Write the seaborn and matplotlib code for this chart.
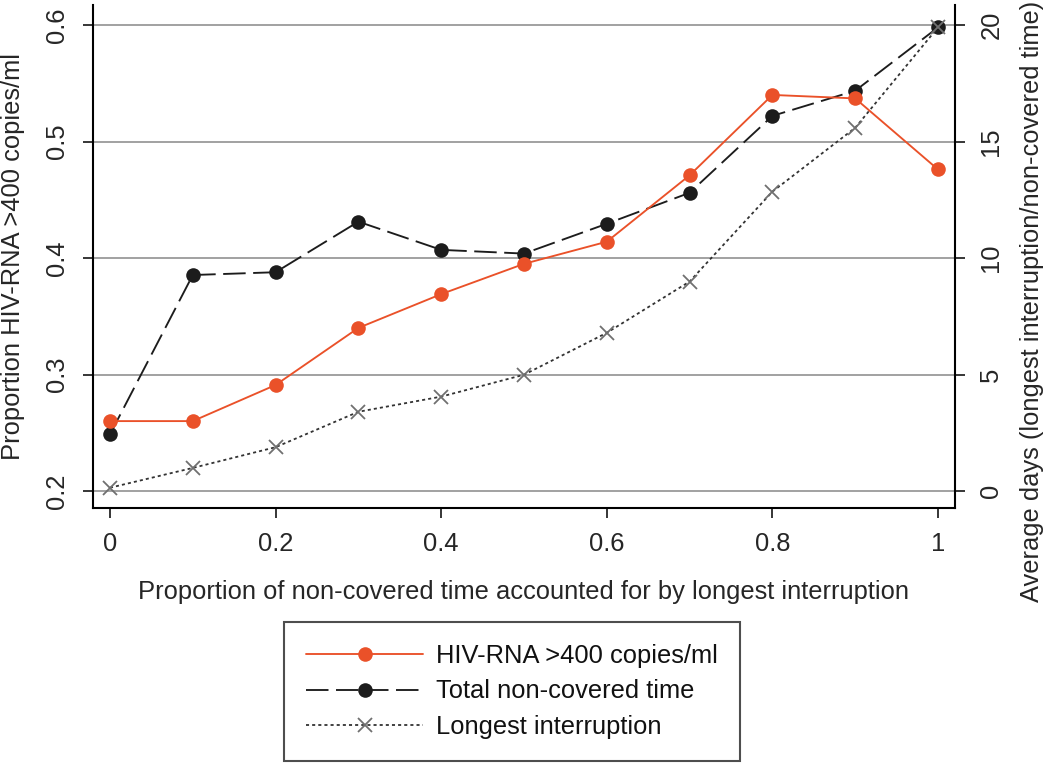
import pandas as pd
import matplotlib
matplotlib.use('Agg')
import matplotlib.pyplot as plt
import seaborn as sns

# values
interruption_share = [0.0, 0.1, 0.2, 0.3, 0.4, 0.5, 0.6, 0.7, 0.8, 0.9, 1.0]
hiv_rna_prop = [0.260, 0.260, 0.291, 0.340, 0.369, 0.395, 0.414, 0.471, 0.540, 0.537, 0.476]
total_noncovered_days = [2.43, 9.27, 9.39, 11.56, 10.35, 10.19, 11.47, 12.80, 16.10, 17.18, 19.90]
longest_interruption_days = [0.14, 0.99, 1.88, 3.40, 4.05, 4.99, 6.79, 8.99, 12.85, 15.59, 19.90]

left_ticks = [0.2, 0.3, 0.4, 0.5, 0.6]
right_ticks = [0, 5, 10, 15, 20]
x_ticks = [0, 0.2, 0.4, 0.6, 0.8, 1]
x_ticklabels = ['0', '0.2', '0.4', '0.6', '0.8', '1']
left_ticklabels = ['0.2', '0.3', '0.4', '0.5', '0.6']

df = pd.DataFrame({
    'share': interruption_share,
    'hiv': hiv_rna_prop,
    'total': total_noncovered_days,
    'longest': longest_interruption_days,
})

sns.set_style('white')
plt.rcParams['font.family'] = ['Liberation Sans', 'DejaVu Sans']
plt.rcParams['font.size'] = 18.4
plt.rcParams['text.color'] = '#111111'

RED = '#EA5129'
BLACK = '#1c1c1c'
GRID = '#9a9a9a'

fig = plt.figure(figsize=(10.5, 7.64), dpi=100)
ax = fig.add_axes([93 / 1050, 256 / 764, 862 / 1050, 503 / 764])
ax2 = ax.twinx()

# right axis below, left axis (red series) drawn on top
ax.set_zorder(ax2.get_zorder() + 1)
ax.patch.set_visible(False)
ax2.patch.set_facecolor('white')

sns.lineplot(data=df, x='share', y='total', ax=ax2, color=BLACK, linewidth=1.35,
             marker='o', markersize=10.5, markeredgewidth=0,
             label='Total non-covered time', legend=False)
sns.lineplot(data=df, x='share', y='longest', ax=ax2, color='#333333', linewidth=1.3,
             marker='x', markersize=10, markeredgewidth=1.3, markeredgecolor='#707070',
             label='Longest interruption', legend=False)
ax2.lines[0].set_dashes([12, 4])
ax2.lines[1].set_dashes([1.7, 1.7])

sns.lineplot(data=df, x='share', y='hiv', ax=ax, color=RED, linewidth=1.35,
             marker='o', markersize=10.5, markeredgewidth=0,
             label='HIV-RNA >400 copies/ml', legend=False)

ax.set_xlim(-0.0205, 1.0205)
ax.set_ylim(0.1854, 0.6172)
ax2.set_ylim(-0.73, 20.86)

# horizontal grid drawn on right axis (same positions as left ticks)
for t in right_ticks:
    ax2.axhline(t, color=GRID, linewidth=1.3, zorder=0)

ax.set_xticks(x_ticks)
ax.set_xticklabels(x_ticklabels)
ax.set_yticks(left_ticks)
ax.set_yticklabels(left_ticklabels)
ax2.set_yticks(right_ticks)
ax2.set_yticklabels([str(t) for t in right_ticks])

for a in (ax, ax2):
    for s in a.spines.values():
        s.set_linewidth(1.5)
        s.set_color('black')
    a.spines['top'].set_visible(False)
    a.tick_params(length=7.5, width=1.1, color='black', labelsize=18.4)
ax.spines['right'].set_visible(False)
ax2.spines['left'].set_visible(False)
ax2.spines['bottom'].set_visible(False)

ax.tick_params(axis='x', pad=10, bottom=True)
ax.tick_params(axis='y', pad=10, left=True)
ax2.tick_params(axis='y', pad=10, right=True)
plt.setp(ax.get_yticklabels(), rotation=90, va='center')
plt.setp(ax2.get_yticklabels(), rotation=90, va='center')

ax.set_xlabel('Proportion of non-covered time accounted for by longest interruption')
ax.set_ylabel('Proportion HIV-RNA >400 copies/ml')
ax2.set_ylabel('Average days (longest interruption/non-covered time)')
ax.xaxis.set_label_coords(0.5, -0.143)
ax.yaxis.set_label_coords(-0.079, 0.5)
ax2.yaxis.set_label_coords(1.075, 0.41)

h1, l1 = ax.get_legend_handles_labels()
h2, l2 = ax2.get_legend_handles_labels()
leg = fig.legend(h1 + h2, l1 + l2, loc='center', bbox_to_anchor=(512 / 1050, (764 - 691.5) / 764),
                 frameon=True, fancybox=False, shadow=False, fontsize=18.4,
                 handlelength=4.6, handletextpad=0.5, labelspacing=0.45,
                 borderpad=0.85, numpoints=1)
leg.get_frame().set_edgecolor('#222222')
leg.get_frame().set_linewidth(1.5)

fig.savefig('out.png', dpi=100, facecolor='white')
